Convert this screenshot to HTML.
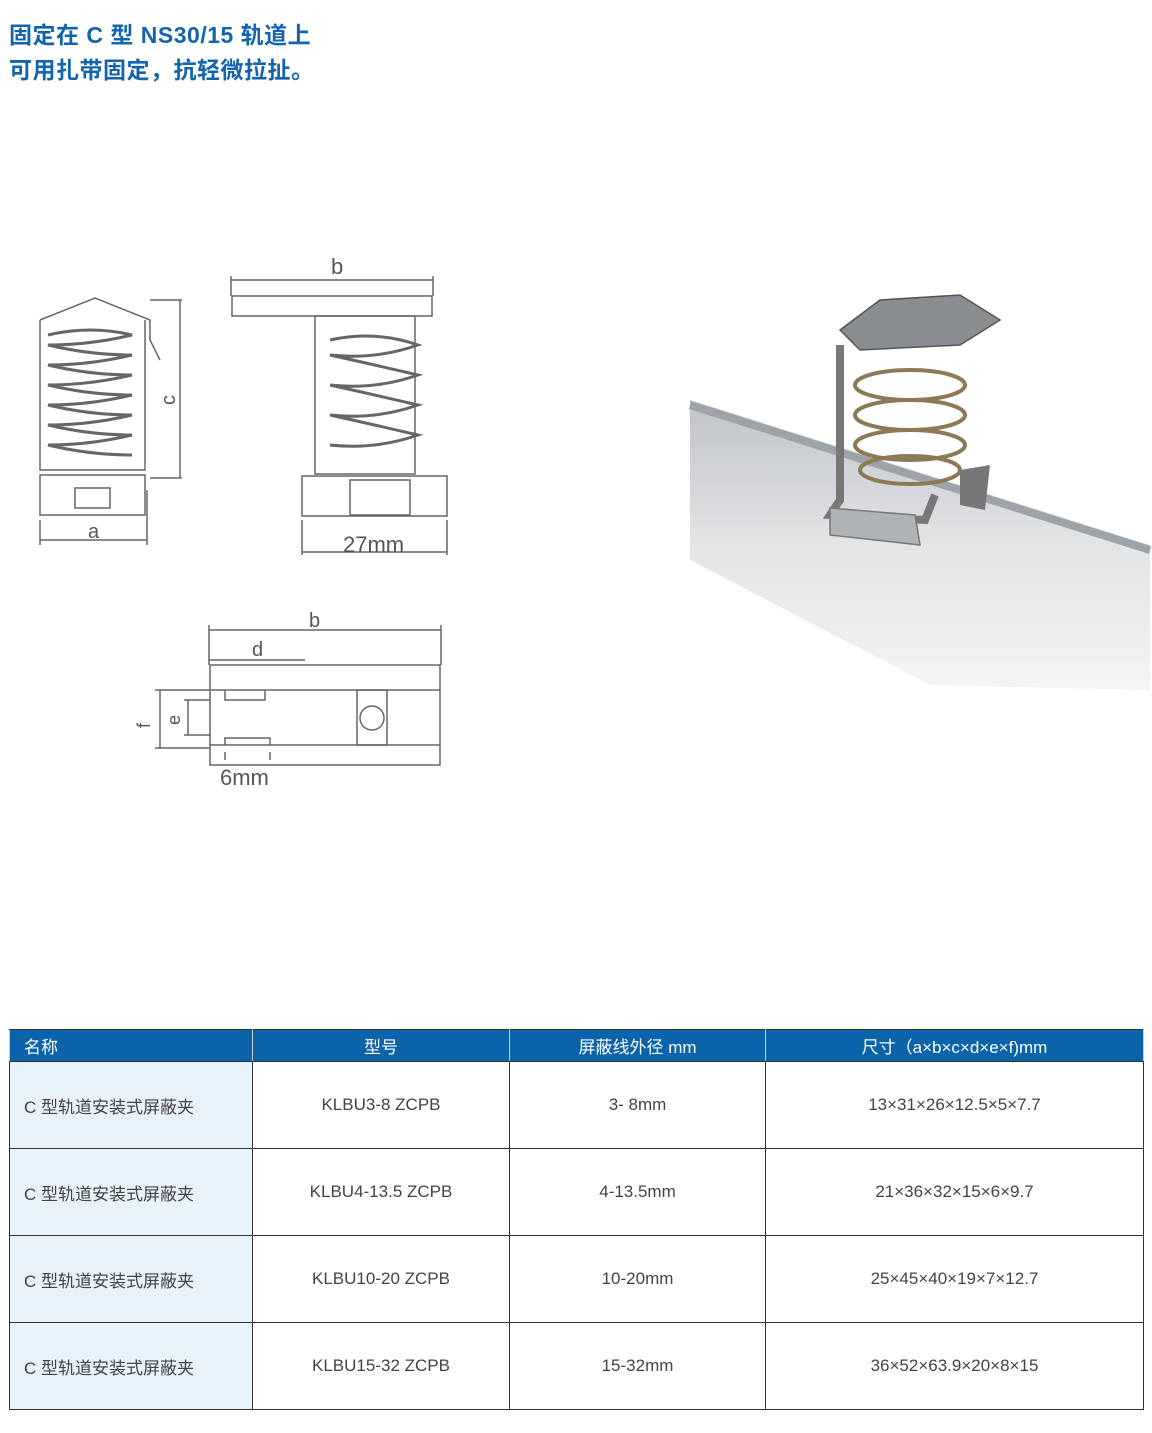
<!DOCTYPE html>
<html><head><meta charset="utf-8"><style>
body{margin:0;width:1152px;height:1433px;background:#fff;position:relative;font-family:"Liberation Sans","Noto Sans CJK SC",sans-serif;overflow:hidden}
.t{position:absolute;left:9px;color:#1265ad;font-weight:bold;font-size:23px;line-height:30px;letter-spacing:0.5px}
table{position:absolute;left:9px;top:1029px;border-collapse:collapse;table-layout:fixed;width:1135px;font-size:17px;color:#444}
td,th{border:1px solid #333;text-align:center;padding:0}
th{background:#0b63a9;color:#fff;font-weight:normal;height:31px;border-color:#333 #ccc}
td{height:86px}
td.f{background:#e8f2fa;text-align:left;padding-left:14px}
th.f{text-align:left;padding-left:14px}
</style></head><body>
<div class="t" style="top:20px">固定在 C 型 NS30/15 轨道上</div>
<div class="t" style="top:55px">可用扎带固定，抗轻微拉扯。</div>
<svg width="1152" height="1000" style="position:absolute;left:0;top:0" font-family="Liberation Sans" fill="none" stroke="#666" stroke-width="1.5">
<path d="M40 320 L95 298 L150 320 L150 340 L160 360 M40 320 V470 H145 V320"/>
<path d="M48 335 Q90 325 132 335 Q90 345 48 345 Q90 355 132 355 Q90 365 48 365 Q90 375 132 375 Q90 385 48 385 Q90 395 132 395 Q90 405 48 405 Q90 415 132 415 Q90 425 48 425 Q90 435 132 435 Q90 445 48 445 Q90 455 132 455" stroke-width="3"/>
<rect x="40" y="475" width="105" height="40"/><rect x="75" y="488" width="35" height="20"/>
<path d="M40 520 V545 M147 490 V545 M40 540 H147 M180 300 V478 M150 300 H182 M150 478 H182"/>
<text x="88" y="538" fill="#555" stroke="none" font-size="20">a</text>
<text x="175" y="405" fill="#555" stroke="none" font-size="20" transform="rotate(-90 175 405)">c</text>
<path d="M231 280 H433 M231 276 V296 M433 276 V296"/>
<text x="331" y="274" fill="#555" stroke="none" font-size="22">b</text>
<rect x="232" y="296" width="200" height="20"/><rect x="315" y="316" width="100" height="158"/>
<path d="M330 340 Q375 330 418 345 Q375 360 330 355 Q375 365 418 375 Q375 390 330 385 Q375 395 418 405 Q375 420 330 415 Q375 425 418 435 Q375 450 330 445" stroke-width="3"/>
<rect x="302" y="476" width="145" height="40"/><rect x="350" y="480" width="60" height="35"/>
<path d="M302 520 V555 M447 520 V555 M302 552 H447"/>
<text x="343" y="552" fill="#555" stroke="none" font-size="22">27mm</text>
<path d="M209 630 H441 M209 625 V665 M441 625 V665 M209 660 H305"/>
<text x="309" y="627" fill="#555" stroke="none" font-size="20">b</text>
<text x="252" y="656" fill="#555" stroke="none" font-size="20">d</text>
<path d="M210 665 H440 V765 H210 Z M210 690 H440 M210 745 H440 M225 690 V700 H265 V690 M225 745 V738 H270 V745"/>
<rect x="357" y="690" width="30" height="55"/><circle cx="372" cy="718" r="12"/>
<path d="M160 690 V748 M155 690 H210 M155 748 H210 M188 700 V735 M184 700 H210 M184 735 H210 M225 752 V760 M270 752 V760"/>
<text x="150" y="728" fill="#555" stroke="none" font-size="18" transform="rotate(-90 150 728)">f</text>
<text x="180" y="725" fill="#555" stroke="none" font-size="18" transform="rotate(-90 180 725)">e</text>
<text x="220" y="785" fill="#555" stroke="none" font-size="22">6mm</text>
<defs><linearGradient id="g" x1="0" y1="0" x2="0" y2="1"><stop offset="0" stop-color="#bfc3c8"/><stop offset=".5" stop-color="#e2e4e6"/><stop offset="1" stop-color="#f4f4f5"/></linearGradient></defs>
<path d="M690 400 L1150 545 L1150 690 L930 685 L690 560 Z" fill="url(#g)" stroke="none"/>
<path d="M690 405 L1150 550" stroke="#9ea3a8" stroke-width="8"/>
<path d="M840 330 L880 300 L960 295 L1000 320 L960 345 L860 350 Z" fill="#8a8d90" stroke="#555"/>
<path d="M840 345 V500 L830 515 L925 520 L935 495" stroke="#777" stroke-width="8"/>
<ellipse cx="910" cy="385" rx="55" ry="15" stroke="#8c7a55" stroke-width="4"/>
<ellipse cx="910" cy="415" rx="55" ry="15" stroke="#8c7a55" stroke-width="4"/>
<ellipse cx="910" cy="445" rx="55" ry="15" stroke="#8c7a55" stroke-width="4"/>
<ellipse cx="910" cy="470" rx="50" ry="14" stroke="#8c7a55" stroke-width="4"/>
<path d="M830 508 L915 515 L920 545 L830 535 Z" fill="#b0b3b6" stroke="#777"/>
<path d="M960 470 L990 465 L985 510 L960 505 Z" fill="#777" stroke="none"/>
</svg>
<table>
<colgroup><col style="width:243px"><col style="width:257px"><col style="width:256px"><col></colgroup>
<tr><th class="f">名称</th><th>型号</th><th>屏蔽线外径 mm</th><th>尺寸（a×b×c×d×e×f)mm</th></tr>
<tr><td class="f">C 型轨道安装式屏蔽夹</td><td>KLBU3-8 ZCPB</td><td>3- 8mm</td><td>13×31×26×12.5×5×7.7</td></tr>
<tr><td class="f">C 型轨道安装式屏蔽夹</td><td>KLBU4-13.5 ZCPB</td><td>4-13.5mm</td><td>21×36×32×15×6×9.7</td></tr>
<tr><td class="f">C 型轨道安装式屏蔽夹</td><td>KLBU10-20 ZCPB</td><td>10-20mm</td><td>25×45×40×19×7×12.7</td></tr>
<tr><td class="f">C 型轨道安装式屏蔽夹</td><td>KLBU15-32 ZCPB</td><td>15-32mm</td><td>36×52×63.9×20×8×15</td></tr>
</table>
</body></html>
